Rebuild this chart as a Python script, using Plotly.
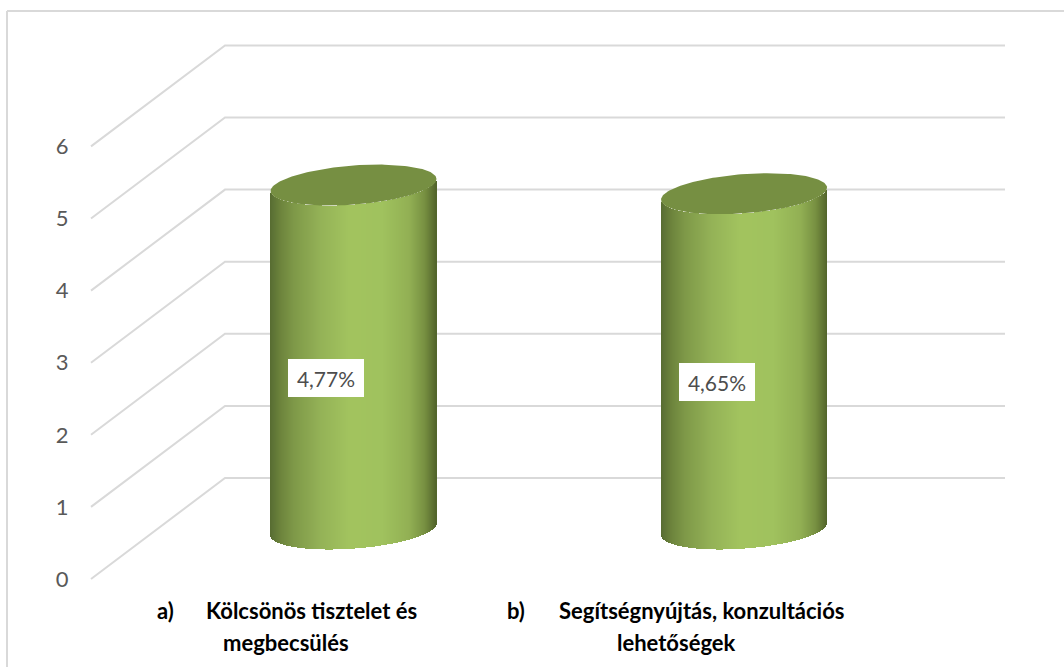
import plotly.graph_objects as go
import numpy as np

# ---- data ----
markers = ["a)", "b)"]
line1 = ["Kölcsönös tisztelet és", "Segítségnyújtás, konzultációs"]
line2 = ["megbecsülés", "lehetőségek"]
values = [4.77, 4.65]
value_labels = ["4,77%", "4,65%"]
tick_vals = [0, 1, 2, 3, 4, 5, 6]

# ---- styling ----
W, H = 1064, 667
PX_PER_UNIT = 72.1
Y0_PX = 579.0
FONT = "Lato"
GRID = "#d9d9d9"
TOP_COLOR = "#768f42"
stops_pos = [0, .02, .06, .14, .30, .48, .68, .84, .93, .98, 1]
stops_rgb = [(88, 108, 50), (94, 116, 54), (108, 131, 60), (126, 152, 72), (148, 178, 87),
             (163, 196, 95), (160, 194, 94), (146, 176, 84), (120, 145, 66), (94, 114, 50), (82, 100, 44)]
centers = [353.5, 744.0]
half_w, half_h, shear = 83.0, 19.6, -0.073
depth_front = 50.0 / PX_PER_UNIT   # cylinder's depth offset
back_dy = 101.0 / PX_PER_UNIT
x_front, x_back, x_end = 91.0, 225.0, 1005.0
marker_x = [155, 505]
label_font_size = 22


def v_of_px(py):
    return (Y0_PX - py) / PX_PER_UNIT


def shade(frac):
    return "rgb(%d,%d,%d)" % tuple(np.interp(frac, stops_pos, [c[i] for c in stops_rgb]) for i in range(3))


fig = go.Figure()
shapes = []
for t in tick_vals:
    path = f"M {x_front},{t} L {x_back},{t + back_dy} L {x_end},{t + back_dy}"
    shapes.append(dict(type="path", path=path, xref="x", yref="y", layer="below",
                       line=dict(color=GRID, width=2)))
# chart frame (top and left only are visible)
shapes.append(dict(type="line", xref="x", yref="y", x0=7, x1=W, y0=v_of_px(11), y1=v_of_px(11),
                   layer="below", line=dict(color=GRID, width=2)))
shapes.append(dict(type="line", xref="x", yref="y", x0=7, x1=7, y0=v_of_px(11), y1=v_of_px(H),
                   layer="below", line=dict(color=GRID, width=2)))

annotations = []
for cx, val, vl, m, l1, l2, mx in zip(centers, values, value_labels, markers, line1, line2, marker_x):
    off = np.arange(-half_w, half_w, 1.0) + 0.5
    xs = np.floor(cx) + off + (0.5 if cx % 1 else 0)
    rel = (xs - cx)
    arc = half_h * np.sqrt(np.clip(1 - (rel / half_w) ** 2, 0, 1))
    # bottom rim of the base ellipse and of the top ellipse (value units)
    base = depth_front - (shear * rel + arc) / PX_PER_UNIT
    top = depth_front + val - (shear * rel + arc) / PX_PER_UNIT
    fig.add_trace(go.Bar(x=xs, y=top - base, base=base, width=1.0,
                         marker=dict(color=[shade((o + half_w) / (2 * half_w)) for o in off], line=dict(width=0)),
                         showlegend=False, hoverinfo="skip"))
    t = np.linspace(0, 2 * np.pi, 181)
    ex = cx + half_w * np.cos(t)
    ey = depth_front + val - (shear * half_w * np.cos(t) + half_h * np.sin(t)) / PX_PER_UNIT
    fig.add_trace(go.Scatter(x=ex, y=ey, mode="lines", fill="toself", fillcolor=TOP_COLOR,
                             line=dict(width=0, color=TOP_COLOR), showlegend=False, hoverinfo="skip"))
    annotations.append(dict(x=cx - 27.5, y=depth_front + val / 2 - 21 / PX_PER_UNIT, xref="x", yref="y", text=vl,
                            showarrow=False, bgcolor="white", width=76, height=38, borderpad=0, borderwidth=0,
                            xanchor="center", yanchor="middle", align="center",
                            font=dict(family=FONT, size=21, color="#4d4d4d")))
    lab_cx = cx - 67.5
    y1, y2 = v_of_px(610), v_of_px(642)
    annotations.append(dict(x=mx, y=y1, xref="x", yref="y", text=f"<b>{m}</b>", showarrow=False,
                            xanchor="left", yanchor="middle",
                            font=dict(family=FONT, size=label_font_size, color="black")))
    annotations.append(dict(x=lab_cx + 25.5, y=y1, xref="x", yref="y", text=f"<b>{l1}</b>",
                            showarrow=False, xanchor="center", yanchor="middle",
                            font=dict(family=FONT, size=label_font_size, color="black")))
    annotations.append(dict(x=lab_cx, y=y2, xref="x", yref="y", text=f"<b>{l2}</b>", showarrow=False,
                            xanchor="center", yanchor="middle",
                            font=dict(family=FONT, size=label_font_size, color="black")))

fig.update_layout(
    width=W, height=H, margin=dict(l=0, r=0, t=0, b=0),
    paper_bgcolor="white", plot_bgcolor="white",
    bargap=0, barmode="overlay", shapes=shapes, annotations=annotations, showlegend=False,
    xaxis=dict(range=[0, W], visible=False, fixedrange=True),
    yaxis=dict(range=[v_of_px(H), v_of_px(0)], anchor="free", position=x_front / W,
               tickvals=tick_vals, ticktext=[str(t) for t in tick_vals],
               ticks="outside", ticklen=18, tickcolor="rgba(0,0,0,0)", showgrid=False, zeroline=False,
               showline=False, tickfont=dict(family=FONT, size=22, color="#595959")),
)
fig.write_html("out.html", config=dict(displayModeBar=False),
               post_script="document.body.style.margin='0';document.body.style.overflow='hidden';")
